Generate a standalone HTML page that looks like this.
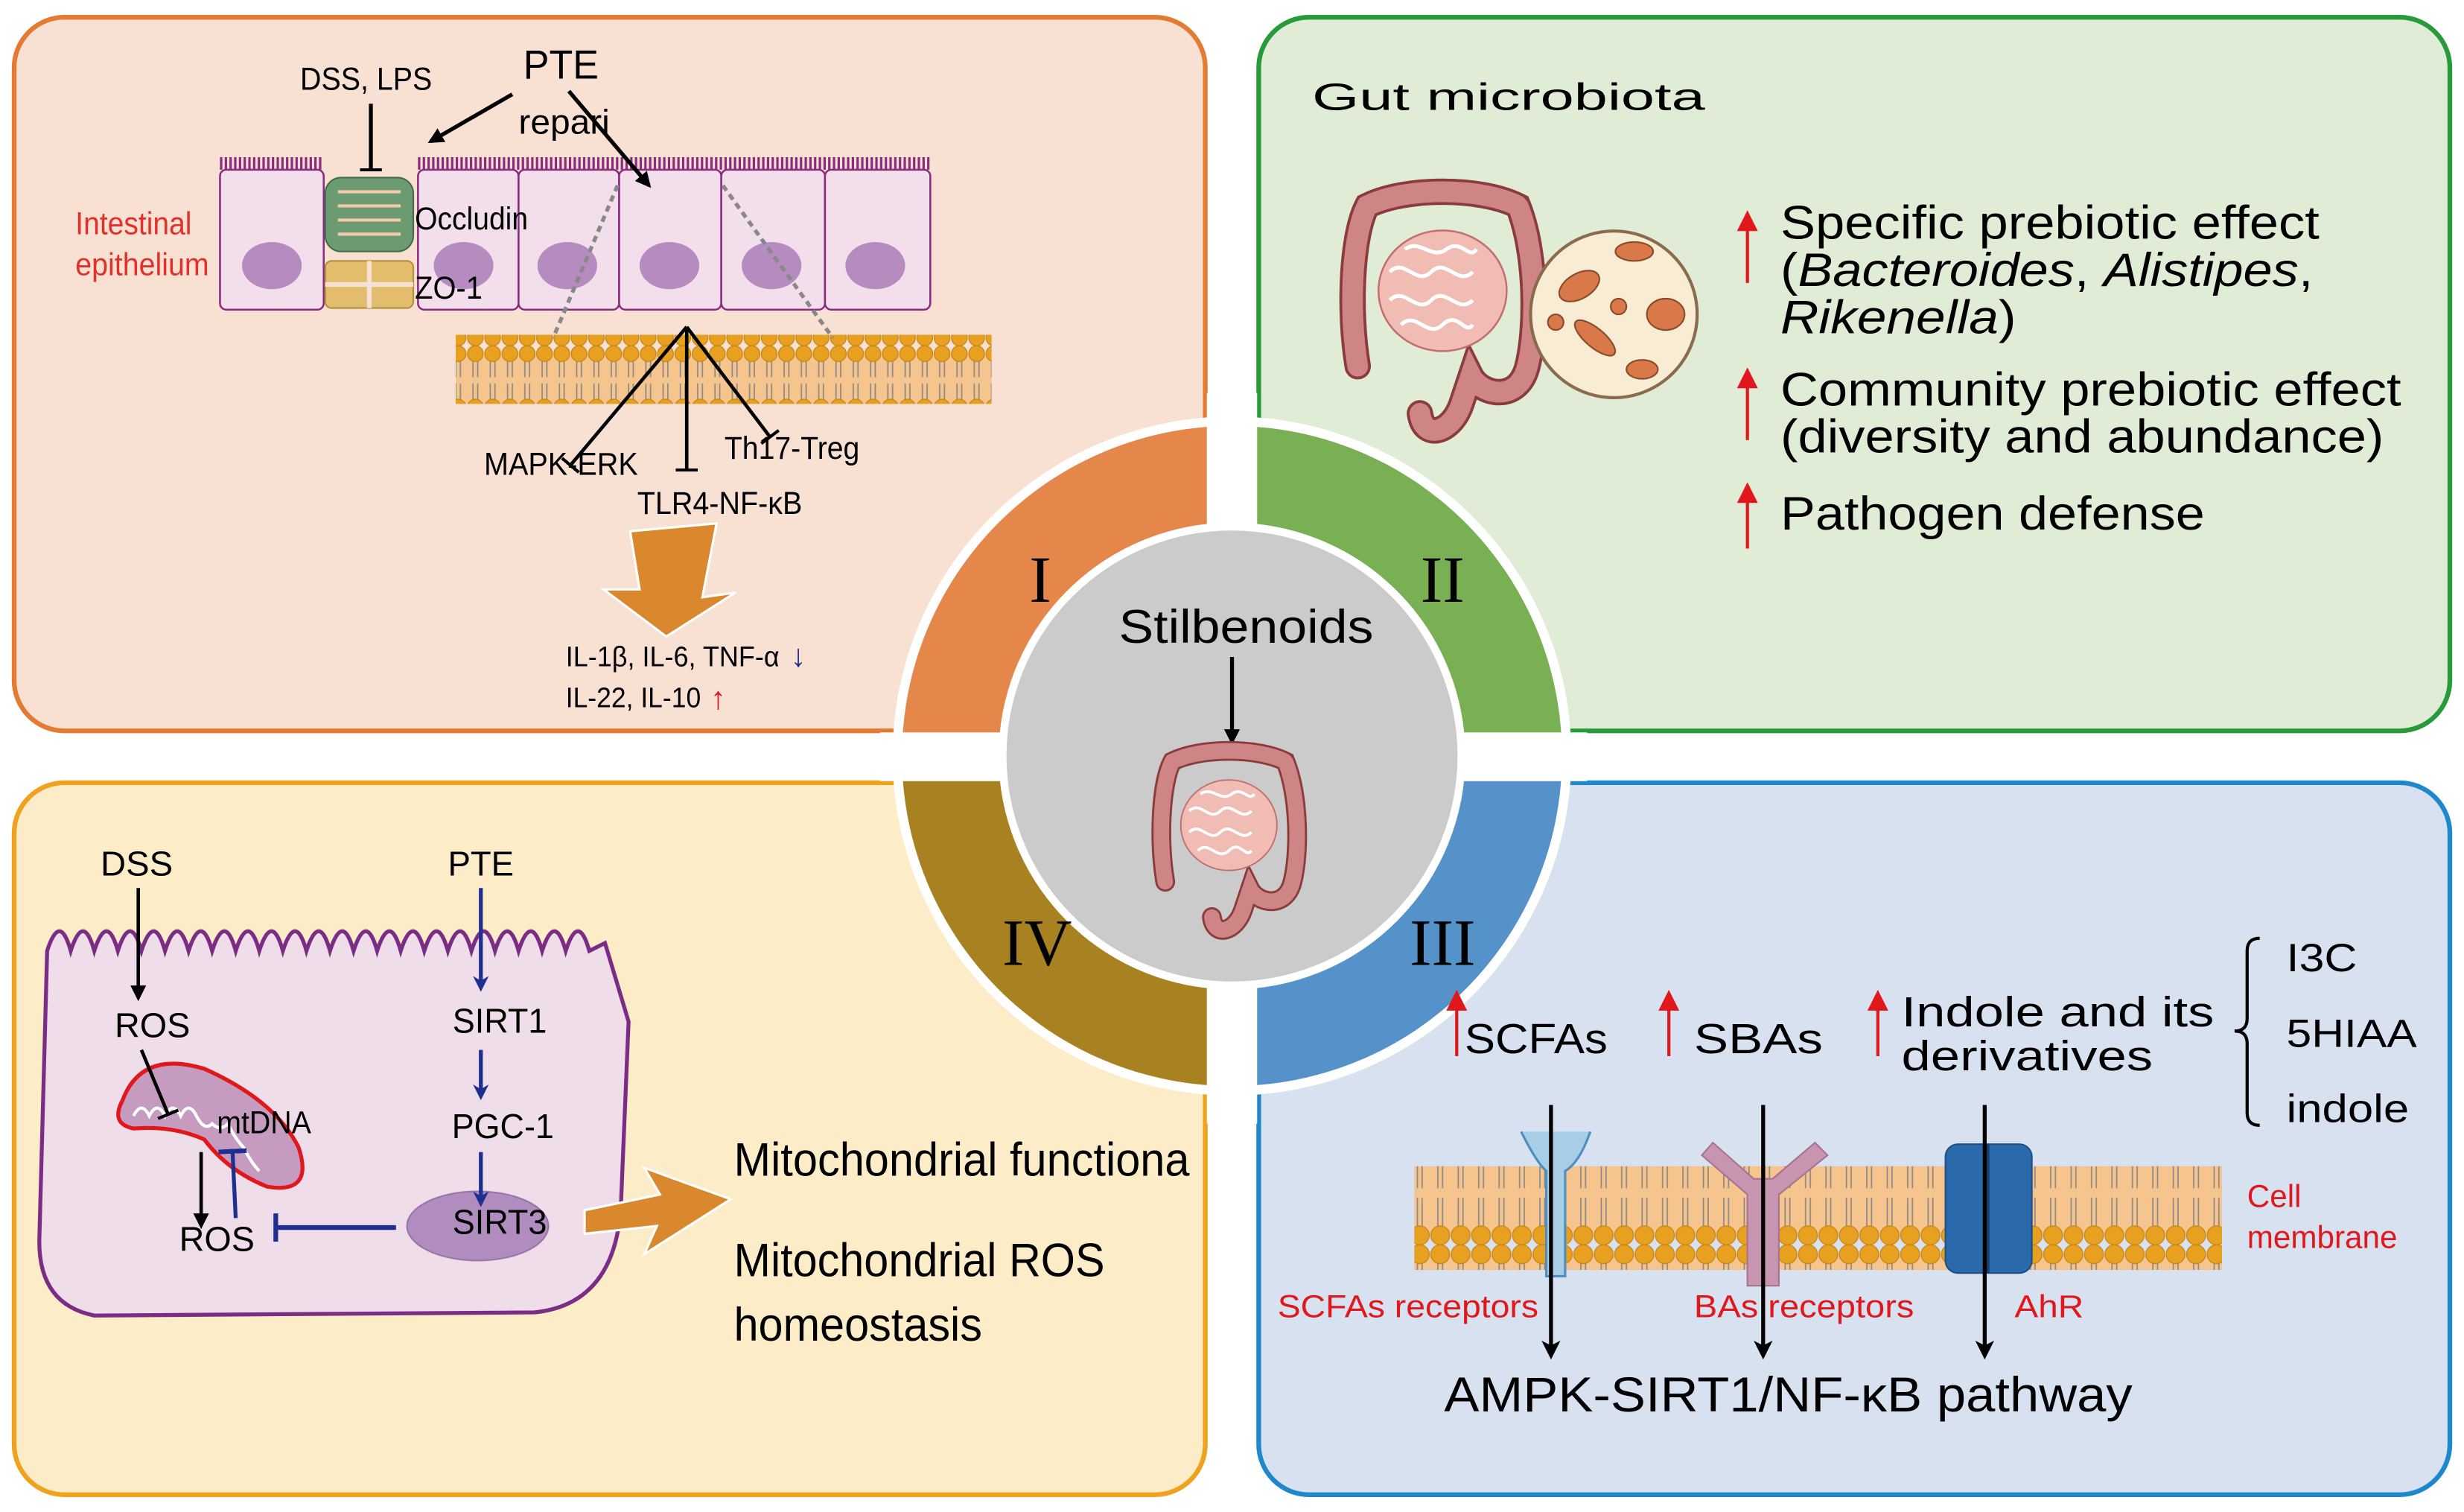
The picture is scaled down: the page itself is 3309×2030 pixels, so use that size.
<!DOCTYPE html>
<html><head><meta charset="utf-8"><style>
html,body{margin:0;padding:0;background:#fff;}
svg{display:block;}
text{font-family:"Liberation Sans Narrow","Liberation Sans",Arial,sans-serif;}
.w{font-family:"Liberation Sans",Arial,sans-serif;}
.s{font-family:"Liberation Serif",serif;}
</style></head><body>
<svg width="3309" height="2030" viewBox="0 0 1568 962" preserveAspectRatio="none" xmlns="http://www.w3.org/2000/svg">
<defs>
<pattern id="mem" x="0" y="0" width="11" height="44" patternUnits="userSpaceOnUse">
<rect x="0" y="6" width="11" height="32" fill="#f6c48d"/>
<path d="M4 10v10M7 10v10M4 24v10M7 24v10" stroke="#888" stroke-width="0.8"/>
<circle cx="5.5" cy="5" r="5" fill="#e8a021" stroke="#c78312" stroke-width="0.6"/>
<circle cx="5.5" cy="39" r="5" fill="#e8a021" stroke="#c78312" stroke-width="0.6"/>
</pattern>
<pattern id="mem2" x="0" y="0" width="13" height="66" patternUnits="userSpaceOnUse">
<rect x="0" y="7" width="13" height="52" fill="#f6c48d"/>
<path d="M5 12v18M8 12v18M5 36v18M8 36v18" stroke="#888" stroke-width="0.8"/>
<circle cx="6.5" cy="6" r="6" fill="#e8a021" stroke="#c78312" stroke-width="0.6"/>
<circle cx="6.5" cy="60" r="6" fill="#e8a021" stroke="#c78312" stroke-width="0.6"/>
</pattern>
<marker id="ab" markerWidth="10" markerHeight="10" refX="8" refY="5" orient="auto" markerUnits="userSpaceOnUse"><path d="M0 0L10 5L0 10Z" fill="#000"/></marker>
<marker id="abl" markerWidth="10" markerHeight="10" refX="7" refY="5" orient="auto" markerUnits="userSpaceOnUse"><path d="M0 0L10 5L0 10L3 5Z" fill="#1f2f8f"/></marker>
<marker id="ab2" markerWidth="12" markerHeight="12" refX="9" refY="6" orient="auto" markerUnits="userSpaceOnUse"><path d="M0 0L12 6L0 12L3 6Z" fill="#000"/></marker>
<marker id="tb" markerWidth="2" markerHeight="14" refX="1" refY="7" orient="auto" markerUnits="userSpaceOnUse"><rect x="0" y="0" width="2.5" height="14" fill="#000"/></marker>
<marker id="tbb" markerWidth="3" markerHeight="18" refX="1" refY="9" orient="auto" markerUnits="userSpaceOnUse"><rect x="0" y="0" width="3" height="18" fill="#1f2f8f"/></marker>
<g id="gut">
<path d="M-45 40 C-50 10 -48 -30 -40 -45 C-20 -55 20 -55 40 -45 C50 -20 50 20 45 40 C40 60 20 55 15 45 L10 60 C5 75 -10 80 -12 65" fill="none" stroke="#8a3b3b" stroke-width="14" stroke-linecap="round"/>
<path d="M-45 40 C-50 10 -48 -30 -40 -45 C-20 -55 20 -55 40 -45 C50 -20 50 20 45 40 C40 60 20 55 15 45 L10 60 C5 75 -10 80 -12 65" fill="none" stroke="#cf8585" stroke-width="11" stroke-linecap="round" stroke-dasharray="5 1.5"/>
<ellipse cx="0" cy="0" rx="34" ry="32" fill="#f0bcb4" stroke="#c07070" stroke-width="1"/>
<path d="M-28 -10c8 -8 14 8 22 0s14 8 22 0M-28 5c8-8 14 8 22 0s14 8 22 0M-22 18c8-8 14 8 22 0s12 6 16 0M-20 -22c8-6 14 6 22 0s12 6 16 0" stroke="#fff" stroke-width="2" fill="none"/>
</g>
</defs>

<rect x="9" y="11" width="758" height="454" rx="32" fill="#f8e1d3" stroke="#e47b32" stroke-width="3"/>
<rect x="801" y="11" width="758" height="454" rx="32" fill="#e1ecd6" stroke="#279a3c" stroke-width="3"/>
<rect x="9" y="498" width="758" height="453" rx="32" fill="#fcecc8" stroke="#f0a11e" stroke-width="3"/>
<rect x="801" y="498" width="758" height="453" rx="32" fill="#d8e1f0" stroke="#1f87cb" stroke-width="3"/>

<circle cx="784" cy="481" r="216" fill="#fff"/>
<path d="M784 481 L784 271 A210 210 0 0 0 574 481Z" fill="#e5874a"/>
<path d="M784 481 L994 481 A210 210 0 0 0 784 271Z" fill="#79b053"/>
<path d="M784 481 L574 481 A210 210 0 0 0 784 691Z" fill="#a88220"/>
<path d="M784 481 L784 691 A210 210 0 0 0 994 481Z" fill="#5592c9"/>
<rect x="768" y="250" width="32" height="465" fill="#fff"/>
<rect x="560" y="466" width="450" height="31" fill="#fff"/>
<circle cx="784" cy="481" r="146" fill="#cbcbcb" stroke="#fff" stroke-width="5"/>
<text x="662" y="383" font-size="42" class="s" text-anchor="middle">I</text>
<text x="918" y="383" font-size="42" class="s" text-anchor="middle">II</text>
<text x="660" y="614" font-size="42" class="s" text-anchor="middle">IV</text>
<text x="918" y="614" font-size="42" class="s" text-anchor="middle">III</text>
<text x="793" y="409" font-size="30" text-anchor="middle" textLength="162" lengthAdjust="spacingAndGlyphs">Stilbenoids</text>
<line x1="784" y1="418" x2="784" y2="472" stroke="#000" stroke-width="2.5" marker-end="url(#ab)"/>
<use href="#gut" transform="translate(782,525) scale(0.9)"/>

<!-- Panel I -->
<text x="233" y="57" font-size="20" text-anchor="middle" textLength="84" lengthAdjust="spacingAndGlyphs">DSS, LPS</text>
<text x="357" y="50" font-size="26" text-anchor="middle" textLength="48" lengthAdjust="spacingAndGlyphs">PTE</text>
<text x="330" y="85" font-size="22" textLength="58" lengthAdjust="spacingAndGlyphs">repari</text>
<text x="48" y="149" font-size="20" fill="#e4302b" textLength="74" lengthAdjust="spacingAndGlyphs">Intestinal</text>
<text x="48" y="175" font-size="20" fill="#e4302b" textLength="85" lengthAdjust="spacingAndGlyphs">epithelium</text>
<g stroke="#8a2b7f" stroke-width="1.2" fill="#f3dfeb">
<rect x="140" y="108" width="66" height="89" rx="4"/>
<rect x="266" y="108" width="64" height="89" rx="4"/>
<rect x="330" y="108" width="64" height="89" rx="4"/>
<rect x="394" y="108" width="65" height="89" rx="4"/>
<rect x="459" y="108" width="66" height="89" rx="4"/>
<rect x="525" y="108" width="67" height="89" rx="4"/>
</g>
<g fill="none" stroke="#8a2b7f" stroke-width="1" stroke-dasharray="1.5 1.5"><line x1="140" y1="104" x2="206" y2="104" stroke-width="8"/><line x1="266" y1="104" x2="592" y2="104" stroke-width="8"/></g>
<g fill="#b68cc0"><ellipse cx="173" cy="169" rx="19" ry="15"/><ellipse cx="295" cy="169" rx="19" ry="15"/><ellipse cx="361" cy="169" rx="19" ry="15"/><ellipse cx="426" cy="169" rx="19" ry="15"/><ellipse cx="491" cy="169" rx="19" ry="15"/><ellipse cx="557" cy="169" rx="19" ry="15"/></g>
<rect x="207" y="113" width="56" height="47" rx="10" fill="#6c9a72" stroke="#456d4c"/>
<g stroke="#f2cba8" stroke-width="2"><line x1="215" y1="122" x2="255" y2="122"/><line x1="215" y1="131" x2="255" y2="131"/><line x1="215" y1="140" x2="255" y2="140"/><line x1="215" y1="149" x2="255" y2="149"/></g>
<rect x="207" y="166" width="56" height="30" rx="4" fill="#e2bd6b" stroke="#b28f3d"/>
<line x1="235" y1="166" x2="235" y2="196" stroke="#f8e1d3" stroke-width="3"/><line x1="207" y1="181" x2="263" y2="181" stroke="#f8e1d3" stroke-width="3"/>
<line x1="236" y1="66" x2="236" y2="108" stroke="#000" stroke-width="2.5" marker-end="url(#tb)"/>
<line x1="326" y1="60" x2="274" y2="90" stroke="#000" stroke-width="2.5" marker-end="url(#ab)"/>
<line x1="362" y1="58" x2="413" y2="118" stroke="#000" stroke-width="2.5" marker-end="url(#ab)"/>
<text x="264" y="146" font-size="20" textLength="72" lengthAdjust="spacingAndGlyphs">Occludin</text>
<text x="264" y="190" font-size="20" textLength="43" lengthAdjust="spacingAndGlyphs">ZO-1</text>
<rect x="290" y="213" width="341" height="44" fill="url(#mem)"/>
<g stroke="#888" stroke-width="2.5" stroke-dasharray="4 3"><line x1="393" y1="118" x2="352" y2="215"/><line x1="460" y1="118" x2="530" y2="215"/></g>
<g stroke="#000" stroke-width="2.2" fill="none"><line x1="437" y1="208" x2="363" y2="296" marker-end="url(#tb)"/><line x1="437" y1="208" x2="437" y2="299" marker-end="url(#tb)"/><line x1="437" y1="208" x2="490" y2="278" marker-end="url(#tb)"/></g>
<text x="357" y="302" font-size="20" text-anchor="middle" textLength="98" lengthAdjust="spacingAndGlyphs">MAPK-ERK</text>
<text x="461" y="292" font-size="20" textLength="86" lengthAdjust="spacingAndGlyphs">Th17-Treg</text>
<text x="458" y="327" font-size="20" text-anchor="middle" textLength="105" lengthAdjust="spacingAndGlyphs">TLR4-NF-κB</text>
<path d="M401 338 L456 333 L447 380 L468 377 L424 405 L384 375 L407 375 Z" fill="#d9882d" stroke="#fff" stroke-width="1.5"/>
<text x="360" y="424" font-size="18" textLength="136" lengthAdjust="spacingAndGlyphs">IL-1β, IL-6, TNF-α</text>
<text x="360" y="450" font-size="18" textLength="86" lengthAdjust="spacingAndGlyphs">IL-22, IL-10</text>
<text x="503" y="424" font-size="20" fill="#1f2f8f">↓</text>
<text x="452" y="451" font-size="20" fill="#e0181b">↑</text>

<!-- Panel II -->
<text x="835" y="70" font-size="24" class="w" textLength="250" lengthAdjust="spacingAndGlyphs">Gut microbiota</text>
<use href="#gut" transform="translate(918,185) scale(1.2)"/>
<circle cx="1027" cy="200" r="53" fill="#f8edd4" stroke="#8a6b4b" stroke-width="2"/>
<g fill="#d97848" stroke="#8a4b2b"><ellipse cx="1005" cy="182" rx="14" ry="8" transform="rotate(-30 1005 182)"/><ellipse cx="1040" cy="160" rx="12" ry="6"/><ellipse cx="1060" cy="200" rx="12" ry="10"/><ellipse cx="1015" cy="215" rx="16" ry="6" transform="rotate(40 1015 215)"/><ellipse cx="1045" cy="235" rx="10" ry="6"/><circle cx="990" cy="205" r="5"/><circle cx="1030" cy="195" r="5"/></g>
<g class="w" font-size="30">
<text x="1133" y="152" textLength="343" lengthAdjust="spacingAndGlyphs">Specific prebiotic effect</text>
<text x="1133" y="182" textLength="339" lengthAdjust="spacingAndGlyphs">(<tspan font-style="italic">Bacteroides</tspan>, <tspan font-style="italic">Alistipes</tspan>,</text>
<text x="1133" y="212" textLength="150" lengthAdjust="spacingAndGlyphs"><tspan font-style="italic">Rikenella</tspan>)</text>
<text x="1133" y="258" textLength="395" lengthAdjust="spacingAndGlyphs">Community prebiotic effect</text>
<text x="1133" y="288" textLength="384" lengthAdjust="spacingAndGlyphs">(diversity and abundance)</text>
<text x="1133" y="337" textLength="270" lengthAdjust="spacingAndGlyphs">Pathogen defense</text>
</g>
<g stroke="#e0181b" stroke-width="2" fill="#e0181b"><line x1="1112" y1="180" x2="1112" y2="140"/><path d="M1107 146 L1112 136 L1117 146Z"/><line x1="1112" y1="280" x2="1112" y2="240"/><path d="M1107 246 L1112 236 L1117 246Z"/><line x1="1112" y1="349" x2="1112" y2="313"/><path d="M1107 319 L1112 309 L1117 319Z"/></g>

<!-- Panel IV -->
<path d="M30 605 q8 -25 15 0 q8 -25 15 0 q8 -25 15 0 q8 -25 15 0 q8 -25 15 0 q8 -25 15 0 q8 -25 15 0 q8 -25 15 0 q8 -25 15 0 q8 -25 15 0 q8 -25 15 0 q8 -25 15 0 q8 -25 15 0 q8 -25 15 0 q8 -25 15 0 q8 -25 15 0 q8 -25 15 0 q8 -25 15 0 q8 -25 15 0 q8 -25 15 0 q8 -25 15 0 q8 -25 15 0 q8 -25 15 0 L385 600 L400 650 L395 770 Q390 830 340 835 L60 837 Q25 830 25 790 Z" fill="#efdde9" stroke="#7b2c84" stroke-width="2.5"/>
<text x="87" y="557" font-size="22" text-anchor="middle" textLength="46" lengthAdjust="spacingAndGlyphs">DSS</text>
<text x="306" y="557" font-size="22" text-anchor="middle" textLength="42" lengthAdjust="spacingAndGlyphs">PTE</text>
<line x1="88" y1="565" x2="88" y2="635" stroke="#000" stroke-width="2.2" marker-end="url(#ab)"/>
<text x="97" y="660" font-size="22" text-anchor="middle" textLength="48" lengthAdjust="spacingAndGlyphs">ROS</text>
<path d="M78 700 Q90 668 130 680 Q175 700 190 730 Q200 760 170 755 Q145 745 130 725 Q110 716 85 718 Q70 715 78 700Z" fill="#c59cc0" stroke="#e0181b" stroke-width="2.5"/>
<path d="M85 710 q5 -10 10 0 q5 -10 10 0 q5 -10 10 0 q5 -10 10 0 q5 10 10 5 q5 5 10 0 q5 10 10 15 q5 10 10 15" stroke="#fff" fill="none" stroke-width="2"/>
<text x="138" y="721" font-size="20" textLength="60" lengthAdjust="spacingAndGlyphs">mtDNA</text>
<line x1="90" y1="668" x2="107" y2="709" stroke="#000" stroke-width="2.2" marker-end="url(#tb)"/>
<line x1="128" y1="733" x2="128" y2="780" stroke="#000" stroke-width="2.2" marker-end="url(#ab)"/>
<line x1="150" y1="775" x2="148" y2="733" stroke="#1f2f8f" stroke-width="2.5" marker-end="url(#tbb)"/>
<text x="138" y="796" font-size="22" text-anchor="middle" textLength="48" lengthAdjust="spacingAndGlyphs">ROS</text>
<ellipse cx="304" cy="780" rx="45" ry="22" fill="#b18cbe" stroke="#9a76a8"/>
<line x1="252" y1="781" x2="176" y2="781" stroke="#1f2f8f" stroke-width="3" marker-end="url(#tbb)"/>
<g stroke="#1f2f8f" stroke-width="2.5"><line x1="306" y1="565" x2="306" y2="628" marker-end="url(#abl)"/><line x1="306" y1="668" x2="306" y2="697" marker-end="url(#abl)"/><line x1="306" y1="733" x2="306" y2="765" marker-end="url(#abl)"/></g>
<text x="318" y="657" font-size="22" text-anchor="middle" textLength="60" lengthAdjust="spacingAndGlyphs">SIRT1</text>
<text x="320" y="724" font-size="22" text-anchor="middle" textLength="65" lengthAdjust="spacingAndGlyphs">PGC-1</text>
<text x="318" y="785" font-size="22" text-anchor="middle" textLength="60" lengthAdjust="spacingAndGlyphs">SIRT3</text>
<path d="M372 770 L420 760 L410 743 L465 763 L410 798 L418 780 L372 785Z" fill="#d9882d" stroke="#fff" stroke-width="1.5"/>
<text x="467" y="748" font-size="30" textLength="290" lengthAdjust="spacingAndGlyphs">Mitochondrial functiona</text>
<text x="467" y="812" font-size="30" textLength="236" lengthAdjust="spacingAndGlyphs">Mitochondrial ROS</text>
<text x="467" y="853" font-size="30" textLength="158" lengthAdjust="spacingAndGlyphs">homeostasis</text>

<!-- Panel III -->
<g class="w" font-size="27">
<text x="932" y="670" textLength="91" lengthAdjust="spacingAndGlyphs">SCFAs</text>
<text x="1078" y="670" textLength="82" lengthAdjust="spacingAndGlyphs">SBAs</text>
<text x="1210" y="653" textLength="199" lengthAdjust="spacingAndGlyphs">Indole and its</text>
<text x="1210" y="681" textLength="160" lengthAdjust="spacingAndGlyphs">derivatives</text>
<text x="1455" y="618" font-size="25" textLength="45" lengthAdjust="spacingAndGlyphs">I3C</text>
<text x="1455" y="666" font-size="25" textLength="83" lengthAdjust="spacingAndGlyphs">5HIAA</text>
<text x="1455" y="714" font-size="25" textLength="78" lengthAdjust="spacingAndGlyphs">indole</text>
</g>
<path d="M1438 597 Q1430 597 1430 605 L1430 648 Q1430 656 1422 656 Q1430 656 1430 664 L1430 708 Q1430 716 1438 716" fill="none" stroke="#000" stroke-width="2"/>
<g stroke="#e0181b" stroke-width="2" fill="#e0181b"><line x1="927" y1="672" x2="927" y2="640"/><path d="M922 642 L927 632 L932 642Z"/><line x1="1062" y1="672" x2="1062" y2="640"/><path d="M1057 642 L1062 632 L1067 642Z"/><line x1="1195" y1="672" x2="1195" y2="640"/><path d="M1190 642 L1195 632 L1200 642Z"/></g>
<rect x="900" y="742" width="514" height="66" fill="url(#mem2)"/>
<path d="M968 720 Q978 740 984 745 L984 812 L996 812 L996 745 Q1005 740 1012 720" fill="#a8cde6" stroke="#4f8fbf" stroke-width="1.5"/>
<path d="M1083 735 L1112 760 L1112 818 L1132 818 L1132 760 L1163 735 L1155 727 L1128 750 L1116 750 L1090 727Z" fill="#c795b0" stroke="#a8738e"/>
<rect x="1238" y="728" width="55" height="82" rx="8" fill="#2b6aaa" stroke="#1e4f85"/>
<line x1="1265" y1="728" x2="1265" y2="810" stroke="#173d6a" stroke-width="2"/>
<g stroke="#000" stroke-width="2.5"><line x1="987" y1="703" x2="987" y2="862" marker-end="url(#ab2)"/><line x1="1122" y1="703" x2="1122" y2="862" marker-end="url(#ab2)"/><line x1="1263" y1="703" x2="1263" y2="862" marker-end="url(#ab2)"/></g>
<g fill="#e0181b" font-size="20" class="w">
<text x="813" y="838" textLength="166" lengthAdjust="spacingAndGlyphs">SCFAs receptors</text>
<text x="1078" y="838" textLength="140" lengthAdjust="spacingAndGlyphs">BAs receptors</text>
<text x="1282" y="838" textLength="44" lengthAdjust="spacingAndGlyphs">AhR</text>
<text x="1430" y="768">Cell</text>
<text x="1430" y="794">membrane</text>
</g>
<text x="919" y="898" font-size="31" class="w" textLength="438" lengthAdjust="spacingAndGlyphs">AMPK-SIRT1/NF-κB pathway</text>
</svg>
</body></html>
